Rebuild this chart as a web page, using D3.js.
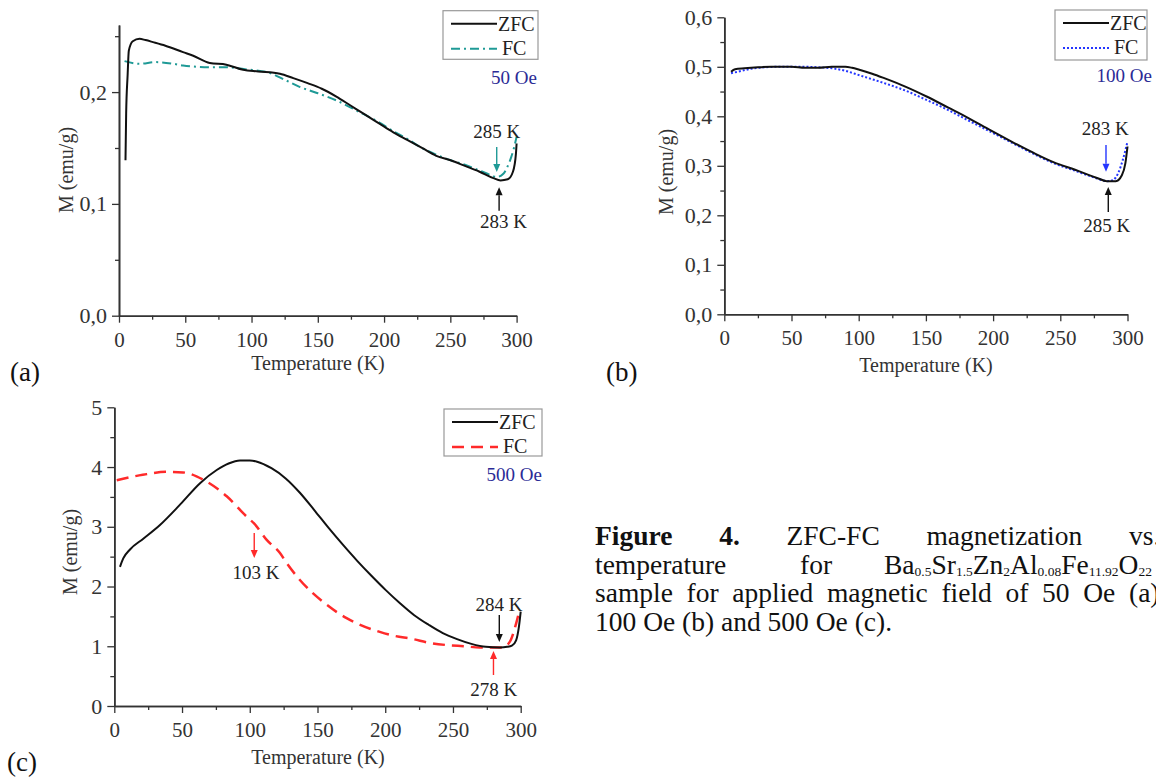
<!DOCTYPE html>
<html>
<head>
<meta charset="utf-8">
<script src="https://cdn.jsdelivr.net/npm/d3@7"></script>
<style>
  body { margin: 0; background: #fff; }
  svg text { font-family: "Liberation Serif", "Times New Roman", serif; }
</style>
</head>
<body>
<svg id="fig" width="1156" height="780"></svg>
<script>
// ---- data ----
const xMajor = [0, 50, 100, 150, 200, 250, 300];
const xMinor = [25, 75, 125, 175, 225, 275];

// (a) 50 Oe
const tA_zfc = [4.9, 5.4, 6.5, 7.4, 10.4, 15.5, 20, 25.6, 35, 48.3, 56, 68.5, 81, 93.7, 105, 121.4, 131.5, 142.3, 153, 164, 174.7, 185.4, 196.2, 207, 217.8, 228.6, 239.4, 250.2, 261, 271.7, 282.5, 287.9, 293.3, 297.3, 299.5, 300];
const mA_zfc = [0.139, 0.181, 0.215, 0.237, 0.2455, 0.2477, 0.2465, 0.2447, 0.2415, 0.2357, 0.2325, 0.226, 0.2245, 0.220, 0.2185, 0.2164, 0.2125, 0.208, 0.203, 0.196, 0.188, 0.180, 0.172, 0.164, 0.157, 0.150, 0.143, 0.139, 0.134, 0.129, 0.123, 0.121, 0.122, 0.129, 0.145, 0.154];
const tA_fc = [4.2, 15.5, 28, 40, 48.3, 68.5, 81, 96, 111.4, 125, 136.6, 150, 165, 180, 196.2, 207, 217.8, 228.6, 239.4, 250.2, 261, 271.7, 280, 285, 290, 293, 296, 298, 300];
const mA_fc = [0.2277, 0.2253, 0.2268, 0.2255, 0.2238, 0.2223, 0.2223, 0.2203, 0.2179, 0.211, 0.2045, 0.199, 0.192, 0.183, 0.173, 0.165, 0.158, 0.150, 0.144, 0.139, 0.135, 0.130, 0.126, 0.124, 0.127, 0.133, 0.142, 0.150, 0.160];

// (b) 100 Oe
const tB_zfc = [5, 8, 15, 25, 35, 50, 60, 70, 80, 90, 95, 100.5, 110, 119, 134.7, 150.5, 166.3, 182, 197.9, 213.7, 229.5, 245.3, 261, 276.8, 284.7, 291.3, 295.8, 298.4, 300];
const mB_zfc = [0.490, 0.495, 0.497, 0.499, 0.500, 0.500, 0.498, 0.498, 0.500, 0.500, 0.498, 0.494, 0.486, 0.477, 0.460, 0.440, 0.418, 0.396, 0.372, 0.349, 0.327, 0.307, 0.292, 0.276, 0.269, 0.269, 0.281, 0.305, 0.339];
const tB_fc = [5, 10, 20, 30, 40, 60, 70, 80, 90, 100.5, 119, 134.7, 150.5, 166.3, 182, 197.9, 213.7, 229.5, 245.3, 261, 276.8, 284.7, 289, 293, 296.5, 300];
const mB_fc = [0.487, 0.490, 0.496, 0.499, 0.500, 0.500, 0.499, 0.497, 0.492, 0.483, 0.467, 0.452, 0.433, 0.413, 0.391, 0.369, 0.347, 0.325, 0.305, 0.290, 0.275, 0.269, 0.271, 0.285, 0.312, 0.349];

// (c) 500 Oe
const tC_zfc = [4.2, 6.6, 11.6, 21.4, 33.7, 48.5, 63.3, 75.6, 84.4, 92.8, 100, 105.4, 116, 126.5, 137, 147.6, 158.2, 168.7, 179.3, 189.8, 200.4, 210.9, 221.4, 232, 242.5, 253, 263.6, 274.2, 284.7, 290, 293.5, 296.6, 298.7, 300];
const mC_zfc = [2.33, 2.47, 2.62, 2.80, 3.03, 3.37, 3.73, 3.95, 4.06, 4.11, 4.11, 4.09, 3.98, 3.81, 3.57, 3.28, 2.98, 2.70, 2.43, 2.18, 1.94, 1.72, 1.52, 1.36, 1.22, 1.12, 1.04, 0.99, 0.98, 0.99, 1.01, 1.10, 1.33, 1.58];
const tC_fc = [1.8, 21, 38.7, 50.8, 65.5, 83, 97.7, 103, 112.5, 122.3, 127.3, 137, 154.3, 171.5, 179.3, 196, 205.6, 220.6, 232, 245.4, 258.3, 270, 280, 287.3, 290.5, 292.6, 296.6, 299.2];
const mC_fc = [3.78, 3.87, 3.92, 3.91, 3.79, 3.51, 3.17, 3.06, 2.78, 2.56, 2.39, 2.11, 1.74, 1.47, 1.38, 1.24, 1.18, 1.12, 1.06, 1.02, 1.00, 0.98, 0.98, 0.98, 1.03, 1.10, 1.38, 1.61];

const fieldLabels = ['50 Oe', '100 Oe', '500 Oe'];
const panelLabels = ['(a)', '(b)', '(c)'];

// caption words (justified lines)
const capLine1 = [['Figure', true], ['4.', true], ['ZFC-FC'], ['magnetization'], ['vs.']];
const capLine2 = [['temperature'], ['for']];
const formula = [['Ba', '0.5'], ['Sr', '1.5'], ['Zn', '2'], ['Al', '0.08'], ['Fe', '11.92'], ['O', '22']];
const capLine3 = [['sample'], ['for'], ['applied'], ['magnetic'], ['field'], ['of'], ['50'], ['Oe'], ['(a),']];
const capLine4 = [['100 Oe (b) and 500 Oe (c).']];

const svg = d3.select('#fig');

const commaFmt = (v) => d3.format('.1f')(v).replace('.', ',');

// layout of each panel
const panels = [
  {
    left: 119, right: 516.6, bottom: 315.7, top: 25, yMax: 0.26,
    yMajor: [0, 0.1, 0.2], yMinor: [0.05, 0.15, 0.25], yFmt: commaFmt,
    zfc: [tA_zfc, mA_zfc], fc: [tA_fc, mA_fc],
    fcColor: '#1f9a96', fcDash: '9,4,2,4', fcWidth: 2,
    legend: { x: 443, y: 10.7, w: 95, h: 48.6 },
    field: { x: 537, y: 84, text: fieldLabels[0] },
    panel: { x: 10, y: 381, text: panelLabels[0] },
    xTitle: { x: 318, y: 369.5 }, yTitle: { x: 73, y: 170 },
    notes: [
      { text: '285 K', t: 285.1, m: 0.1593, arrow: [285, 0.1509, 0.1286], color: '#1f9a96' },
      { text: '283 K', t: 290.2, m: 0.0783, arrow: [286.8, 0.0938, 0.1149], color: '#111' }
    ]
  },
  {
    left: 724.3, right: 1127.5, bottom: 314.3, top: 17.3, yMax: 0.6,
    yMajor: d3.range(0, 0.61, 0.1), yMinor: d3.range(0.05, 0.6, 0.1), yFmt: commaFmt,
    zfc: [tB_zfc, mB_zfc], fc: [tB_fc, mB_fc],
    fcColor: '#2436ff', fcDash: '2,2', fcWidth: 2,
    legend: { x: 1055, y: 10, w: 92, h: 50 },
    field: { x: 1152, y: 81.7, text: fieldLabels[1] },
    panel: { x: 606, y: 381, text: panelLabels[1] },
    xTitle: { x: 926, y: 372 }, yTitle: { x: 673, y: 172 },
    notes: [
      { text: '283 K', t: 283.4, m: 0.362, arrow: [284, 0.342, 0.288], color: '#2436ff' },
      { text: '285 K', t: 284.6, m: 0.1669, arrow: [285.7, 0.2067, 0.2572], color: '#111' }
    ]
  },
  {
    left: 114.3, right: 520.7, bottom: 706, top: 407.3, yMax: 5,
    yMajor: [0, 1, 2, 3, 4, 5], yMinor: [0.5, 1.5, 2.5, 3.5, 4.5], yFmt: d3.format('d'),
    zfc: [tC_zfc, mC_zfc], fc: [tC_fc, mC_fc],
    fcColor: '#ff2a2a', fcDash: '12,7', fcWidth: 2.5,
    legend: { x: 444, y: 409, w: 98, h: 47 },
    field: { x: 542, y: 481, text: fieldLabels[2] },
    panel: { x: 7, y: 771, text: panelLabels[2] },
    xTitle: { x: 318, y: 764 }, yTitle: { x: 77, y: 552 },
    notes: [
      { text: '103 K', t: 104.6, m: 2.126, arrow: [103.3, 2.896, 2.477], color: '#ff2a2a' },
      { text: '284 K', t: 284, m: 1.595, arrow: [284.2, 1.523, 1.071], color: '#111' },
      { text: '278 K', t: 280.1, m: 0.167, arrow: [279.9, 0.519, 0.921], color: '#ff2a2a' }
    ]
  }
];

function arrow(g, x0, y0, y1, color) {
  const dir = y1 > y0 ? 1 : -1;
  const head = 8;
  g.append('line')
    .attr('x1', x0).attr('x2', x0)
    .attr('y1', y0).attr('y2', y1 - dir * head)
    .attr('stroke', color).attr('stroke-width', 1.4);
  g.append('path')
    .attr('d', `M${x0 - 3.5},${y1 - dir * head} L${x0 + 3.5},${y1 - dir * head} L${x0},${y1} Z`)
    .attr('fill', color);
}

panels.forEach((p) => {
  const g = svg.append('g');
  const x = d3.scaleLinear().domain([0, 300]).range([p.left, p.right]);
  const y = d3.scaleLinear().domain([0, p.yMax]).range([p.bottom, p.top]);

  // minor ticks
  g.append('g').attr('class', 'ax').attr('transform', `translate(0,${p.bottom})`)
    .call(d3.axisBottom(x).tickValues(xMinor).tickSize(4).tickSizeOuter(0).tickFormat(''));
  g.append('g').attr('class', 'ax').attr('transform', `translate(${p.left},0)`)
    .call(d3.axisLeft(y).tickValues(p.yMinor).tickSize(4).tickSizeOuter(0).tickFormat(''));
  // major ticks
  g.append('g').attr('class', 'ax xmaj').attr('transform', `translate(0,${p.bottom})`)
    .call(d3.axisBottom(x).tickValues(xMajor).tickSize(7).tickPadding(9).tickSizeOuter(0).tickFormat(d3.format('d')));
  g.append('g').attr('class', 'ax ymaj').attr('transform', `translate(${p.left},0)`)
    .call(d3.axisLeft(y).tickValues(p.yMajor).tickSize(7).tickPadding(5).tickSizeOuter(0).tickFormat(p.yFmt));

  g.selectAll('.ax path.domain').attr('stroke', '#333').attr('stroke-width', 1.6);
  g.selectAll('.ax .tick line').attr('stroke', '#333').attr('stroke-width', 1.3);
  g.selectAll('.ymaj text').attr('font-size', 22).attr('fill', '#333');
  g.selectAll('.xmaj text').attr('font-size', 21).attr('fill', '#333');

  const line = d3.line().x((d) => x(d[0])).y((d) => y(d[1])).curve(d3.curveMonotoneX);

  g.append('path').datum(d3.zip(p.fc[0], p.fc[1]))
    .attr('d', line).attr('fill', 'none')
    .attr('stroke', p.fcColor).attr('stroke-width', p.fcWidth).attr('stroke-dasharray', p.fcDash);
  g.append('path').datum(d3.zip(p.zfc[0], p.zfc[1]))
    .attr('d', line).attr('fill', 'none')
    .attr('stroke', '#111').attr('stroke-width', 2);

  // axis titles
  g.append('text').attr('x', p.xTitle.x).attr('y', p.xTitle.y)
    .attr('text-anchor', 'middle').attr('font-size', 20).attr('fill', '#333')
    .text('Temperature (K)');
  g.append('text').attr('transform', `translate(${p.yTitle.x},${p.yTitle.y}) rotate(-90)`)
    .attr('text-anchor', 'middle').attr('font-size', 20).attr('fill', '#333')
    .text('M (emu/g)');

  // legend
  const L = p.legend;
  g.append('rect').attr('x', L.x).attr('y', L.y).attr('width', L.w).attr('height', L.h)
    .attr('fill', '#fff').attr('stroke', '#999').attr('stroke-width', 1.2);
  g.append('line').attr('x1', L.x + 8).attr('x2', L.x + 54).attr('y1', L.y + 13).attr('y2', L.y + 13)
    .attr('stroke', '#111').attr('stroke-width', 2);
  g.append('text').attr('x', L.x + 55).attr('y', L.y + 20).attr('font-size', 20).attr('fill', '#222').text('ZFC');
  g.append('line').attr('x1', L.x + 8).attr('x2', L.x + 54).attr('y1', L.y + 38).attr('y2', L.y + 38)
    .attr('stroke', p.fcColor).attr('stroke-width', p.fcWidth).attr('stroke-dasharray', p.fcDash);
  g.append('text').attr('x', L.x + 59).attr('y', L.y + 44).attr('font-size', 20).attr('fill', '#222').text('FC');

  g.append('text').attr('x', p.field.x).attr('y', p.field.y).attr('text-anchor', 'end')
    .attr('font-size', 19).attr('fill', '#2b2b96').text(p.field.text);
  g.append('text').attr('x', p.panel.x).attr('y', p.panel.y)
    .attr('font-size', 27).attr('fill', '#111').text(p.panel.text);

  // annotations
  p.notes.forEach((n) => {
    g.append('text').attr('x', x(n.t)).attr('y', y(n.m)).attr('text-anchor', 'middle')
      .attr('font-size', 19).attr('fill', '#222').text(n.text);
    arrow(g, x(n.arrow[0]), y(n.arrow[1]), y(n.arrow[2]), n.color);
  });
});

// ---- caption ----
const cap = svg.append('g').attr('fill', '#111').attr('font-size', 27.5);

// lay words out so the last one starts at xLast with equal gaps (justified text)
function justify(words, baseline, x0, xLast) {
  const nodes = words.map(([text, bold]) => cap.append('text')
    .attr('y', baseline).attr('font-weight', bold ? 'bold' : null).text(text));
  if (xLast == null || nodes.length < 2) {
    nodes.forEach((n) => n.attr('x', x0));
    return;
  }
  const widths = nodes.map((n) => n.node().getComputedTextLength());
  const gap = (xLast - x0 - d3.sum(widths.slice(0, -1))) / (nodes.length - 1);
  let cx = x0;
  nodes.forEach((n, i) => { n.attr('x', cx); cx += widths[i] + gap; });
}

justify(capLine1, 545, 595, 1129);
justify(capLine2, 573.5, 595, 800);
justify(capLine3, 602, 595, 1129);
justify(capLine4, 630.5, 595, null);

const ft = cap.append('text').attr('x', 884).attr('y', 573.5);
formula.forEach(([el, sub], i) => {
  ft.append('tspan').attr('font-size', 27.5).attr('dy', i === 0 ? 0 : -2).text(el);
  ft.append('tspan').attr('font-size', 13.5).attr('dy', 2).text(sub);
});
</script>
</body>
</html>
